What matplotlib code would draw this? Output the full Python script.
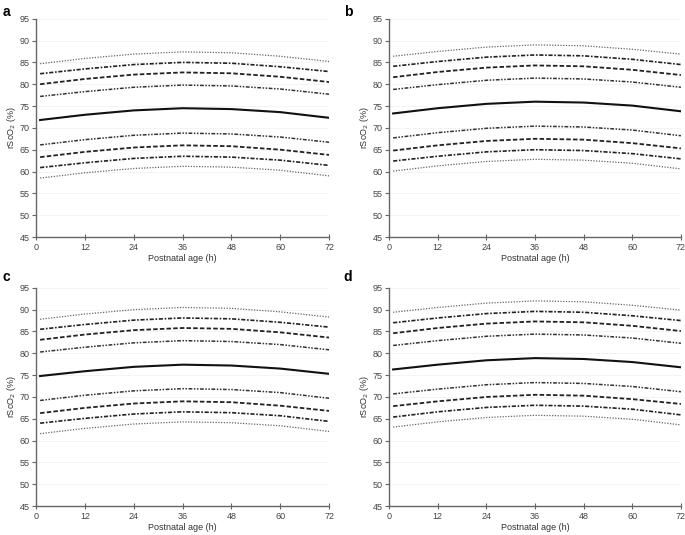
import matplotlib
matplotlib.use("Agg")
import matplotlib.pyplot as plt

plt.rcParams['font.family'] = ['Liberation Sans', 'DejaVu Sans']

# temps (h) auxquels les courbes ont été lues
heures = [1, 12, 24, 36, 48, 60, 72]

# courbes de centiles, de haut en bas, pour chaque panneau
panneau_a = [
    [84.7, 85.9, 86.9, 87.4, 87.2, 86.4, 85.2],
    [82.4, 83.5, 84.5, 85.0, 84.8, 84.0, 82.9],
    [80.0, 81.2, 82.2, 82.7, 82.5, 81.7, 80.5],
    [77.2, 78.3, 79.3, 79.8, 79.6, 78.9, 77.7],
    [71.8, 73.0, 74.0, 74.5, 74.3, 73.6, 72.3],
    [66.1, 67.3, 68.3, 68.8, 68.6, 67.9, 66.7],
    [63.3, 64.5, 65.5, 66.0, 65.8, 65.0, 63.8],
    [60.9, 62.0, 63.0, 63.5, 63.3, 62.6, 61.4],
    [58.5, 59.7, 60.7, 61.2, 61.0, 60.3, 59.0],
]
panneau_b = [
    [86.4, 87.5, 88.5, 89.0, 88.8, 88.0, 86.9],
    [84.1, 85.2, 86.2, 86.7, 86.5, 85.7, 84.5],
    [81.6, 82.8, 83.8, 84.3, 84.1, 83.3, 82.1],
    [78.8, 79.9, 80.9, 81.4, 81.2, 80.5, 79.3],
    [73.3, 74.5, 75.5, 76.0, 75.8, 75.1, 73.8],
    [67.7, 68.9, 69.9, 70.4, 70.2, 69.5, 68.2],
    [64.8, 66.0, 67.0, 67.5, 67.3, 66.5, 65.3],
    [62.4, 63.5, 64.5, 65.0, 64.8, 64.1, 62.9],
    [60.1, 61.3, 62.3, 62.8, 62.6, 61.9, 60.6],
]
panneau_c = [
    [87.8, 89.0, 90.0, 90.5, 90.3, 89.5, 88.3],
    [85.5, 86.6, 87.6, 88.1, 87.9, 87.1, 86.0],
    [83.1, 84.3, 85.3, 85.8, 85.6, 84.8, 83.6],
    [80.3, 81.4, 82.4, 82.9, 82.7, 82.0, 80.8],
    [74.8, 75.9, 76.9, 77.4, 77.2, 76.5, 75.3],
    [69.2, 70.4, 71.4, 71.9, 71.7, 71.0, 69.7],
    [66.3, 67.5, 68.5, 69.0, 68.8, 68.0, 66.8],
    [64.0, 65.1, 66.1, 66.6, 66.4, 65.7, 64.4],
    [61.6, 62.8, 63.8, 64.3, 64.1, 63.4, 62.1],
]
panneau_d = [
    [89.4, 90.5, 91.5, 92.0, 91.8, 91.0, 89.9],
    [87.0, 88.1, 89.1, 89.6, 89.4, 88.6, 87.5],
    [84.6, 85.8, 86.8, 87.3, 87.1, 86.3, 85.1],
    [81.8, 82.9, 83.9, 84.4, 84.2, 83.5, 82.3],
    [76.3, 77.4, 78.4, 78.9, 78.7, 78.0, 76.8],
    [70.7, 71.8, 72.8, 73.3, 73.1, 72.4, 71.2],
    [67.9, 69.0, 70.0, 70.5, 70.3, 69.5, 68.4],
    [65.4, 66.6, 67.6, 68.1, 67.9, 67.2, 65.9],
    [63.1, 64.3, 65.3, 65.8, 65.6, 64.9, 63.6],
]
lettres = ['a', 'b', 'c', 'd']
graduations_x = [0, 12, 24, 36, 48, 60, 72]
graduations_y = [45, 50, 55, 60, 65, 70, 75, 80, 85, 90, 95]

# styles des 9 courbes (extérieur -> centre -> extérieur)
styles = [
    ((0, (1, 1.2)), 0.9, '#666666'),
    ((0, (2.5, 1, 1, 1)), 1.2, '#222222'),
    ((0, (2.5, 1.2)), 1.3, '#222222'),
    ((0, (2.5, 1, 1, 1, 1, 1)), 1.1, '#333333'),
    ('-', 1.5, '#111111'),
    ((0, (2.5, 1, 1, 1, 1, 1)), 1.1, '#333333'),
    ((0, (2.5, 1.2)), 1.3, '#222222'),
    ((0, (2.5, 1, 1, 1)), 1.2, '#222222'),
    ((0, (1, 1.2)), 0.9, '#666666'),
]

fig = plt.figure(figsize=(6.85, 5.35), dpi=100)

# positions des 4 panneaux [gauche, bas, largeur, hauteur]
positions = [
    [0.0526, 0.557, 0.428, 0.408],
    [0.568, 0.557, 0.426, 0.408],
    [0.0526, 0.054, 0.428, 0.408],
    [0.568, 0.054, 0.426, 0.408],
]
coins = [(0.004, 0.978), (0.502, 0.978), (0.004, 0.483), (0.502, 0.483)]

for k, courbes in enumerate([panneau_a, panneau_b, panneau_c, panneau_d]):
    ax = fig.add_axes(positions[k])
    for y in graduations_y[1:]:
        ax.axhline(y, color='#f2f2f2', lw=0.6, zorder=0)
    for c, (ls, lw, col) in zip(courbes, styles):
        ax.plot(heures, c, linestyle=ls, lw=lw, color=col)
    ax.set_xlim(0, 72)
    ax.set_ylim(45, 95)
    ax.set_xticks(graduations_x)
    ax.set_yticks(graduations_y)
    ax.spines['top'].set_visible(False)
    ax.spines['right'].set_visible(False)
    for s in ['left', 'bottom']:
        ax.spines[s].set_color('#666666')
        ax.spines[s].set_linewidth(1.0)
    ax.tick_params(axis='y', direction='out', length=3, width=0.8, color='#666666',
                   labelsize=6.5, labelcolor='#444444', pad=1.5)
    ax.tick_params(axis='x', direction='inout', length=4, width=0.8, color='#666666',
                   labelsize=6.5, labelcolor='#444444', pad=2)
    ax.set_xlabel('Postnatal age (h)', fontsize=6.5, color='#333333', labelpad=1.5)
    ax.set_ylabel('rScO$_2$ (%)', fontsize=6.5, color='#333333', labelpad=1)
    fig.text(coins[k][0], coins[k][1], lettres[k], fontsize=10, fontweight='bold',
             va='center', ha='left')

fig.savefig('out.png', dpi=100)
